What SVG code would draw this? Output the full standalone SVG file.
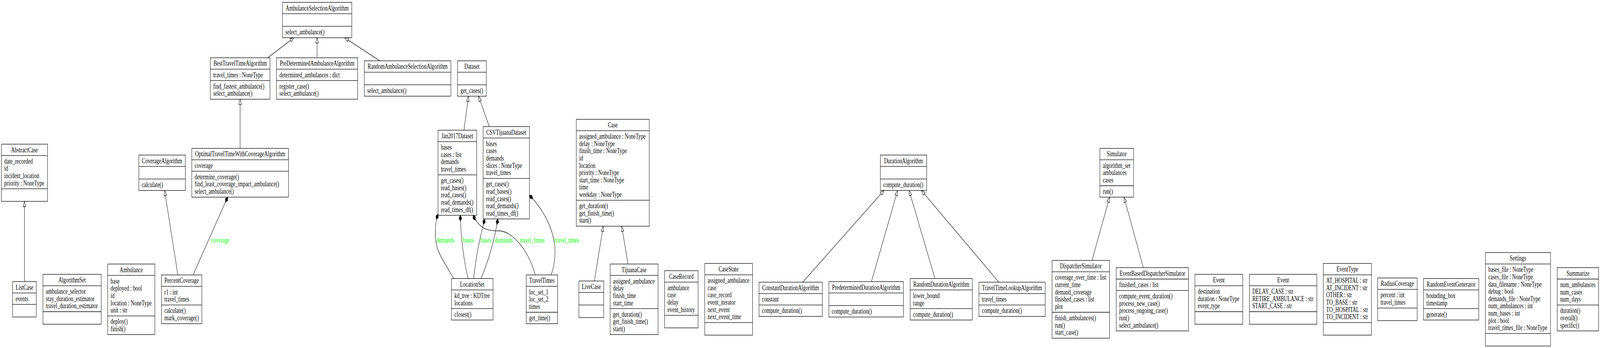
<svg xmlns="http://www.w3.org/2000/svg" width="5875" height="891" viewBox="0 0 5875 891" preserveAspectRatio="none" style="width:100vw;height:100vh;display:block">
<style>
.b{fill:none;stroke:#000;stroke-width:1.3}
.e{fill:none;stroke:#000;stroke-width:1.3}
text{font-family:"Liberation Serif","Times New Roman",serif;font-size:18.5px;fill:#000}
.t{text-anchor:middle}
.lbl{fill:#00ff00}
.inh{marker-end:url(#inh)}
.cmp{marker-start:url(#dia)}
</style>
<defs>
<marker id="inh" markerUnits="userSpaceOnUse" markerWidth="30" markerHeight="30" refX="0" refY="0" orient="auto" overflow="visible"><path d="M0,0 L-13.5,-4.8 L-13.5,4.8 Z" fill="#fff" stroke="#000" stroke-width="1.3"/></marker>
<marker id="dia" markerUnits="userSpaceOnUse" markerWidth="30" markerHeight="30" refX="0" refY="0" orient="auto" overflow="visible"><path d="M0,0 L7.5,-5 L15,0 L7.5,5 Z" fill="#000" stroke="#000" stroke-width="1.3"/></marker>
</defs>
<rect x="0" y="0" width="5875" height="891" fill="#fff"/>

<g id="connectors">
<path class="e inh" d="M89.8,721 L89.8,515.5"/>
<path class="e inh" d="M653,703.9 L604.4,487.6"/>
<path class="e inh" d="M983.4,147.9 L1079,96.6"/>
<path class="e inh" d="M1164.3,147.9 L1164.3,96.6"/>
<path class="e inh" d="M1394.4,155.7 L1265.3,96.6"/>
<path class="e inh" d="M881.7,379.9 L881.7,254.1"/>
<path class="e inh" d="M1703.6,333.4 L1720.2,246.3"/>
<path class="e inh" d="M1796.6,324.1 L1757,246.3"/>
<path class="e inh" d="M2182.5,719.5 L2215,579.1"/>
<path class="e inh" d="M2305.9,676 L2282.9,579.1"/>
<path class="e inh" d="M2947.5,722.5 L3246,487.6"/>
<path class="e inh" d="M3199.8,721 L3296,487.6"/>
<path class="e inh" d="M3433,713.2 L3338,487.6"/>
<path class="e inh" d="M3667.7,722.5 L3383,487.6"/>
<path class="e inh" d="M4009.6,666.7 L4074.5,504.7"/>
<path class="e inh" d="M4198.3,685.3 L4127.1,504.7"/>
<path class="e cmp" d="M835.9,504.7 L708.9,703.9"/>
<path class="e cmp" d="M1608.3,548 C1596,575 1592,620 1615,651 C1630,672 1648,692 1666.1,713.2"/>
<path class="e cmp" d="M1690,551.2 Q1694,640 1718.7,713.2"/>
<path class="e cmp" d="M1737,551.2 C1760,585 1790,592 1830,591 C1880,590 1940,640 1965.4,703.9"/>
<path class="e cmp" d="M1780,560.5 Q1750,640 1739.2,713.2"/>
<path class="e cmp" d="M1828,560.5 Q1810,640 1766.1,713.2"/>
<path class="e cmp" d="M1944,500 C1990,532 2030,580 2037,630 C2041,660 2033,685 2023.9,703.9"/>
<text class="lbl" x="775.4" y="621">coverage</text>
<text class="lbl" x="1602.8" y="621">demands</text>
<text class="lbl" x="1699.7" y="621">bases</text>
<text class="lbl" x="1908.5" y="621">travel_times</text>
<text class="lbl" x="1765" y="621">bases</text>
<text class="lbl" x="1817.1" y="621">demands</text>
<text class="lbl" x="2035.8" y="621">travel_times</text>
</g>

<g id="AmbulanceSelectionAlgorithm"><rect class="b" x="1037.2" y="6" width="254.6" height="90.6"/><path class="b" d="M1037.2,35.2H1291.8M1037.2,67.4H1291.8"/><text class="t" x="1164.5" y="26.6">AmbulanceSelectionAlgorithm</text><text x="1047.8" y="88">select_ambulance()</text></g>

<g id="BestTravelTimeAlgorithm"><rect class="b" x="772.2" y="147.9" width="219.1" height="106.2"/><path class="b" d="M772.2,177.1H991.3M772.2,206.3H991.3"/><text class="t" x="881.75" y="168.5">BestTravelTimeAlgorithm</text><text x="782.8" y="197.7">travel_times : NoneType</text><text x="782.8" y="226.9">find_fastest_ambulance()</text><text x="782.8" y="245.5">select_ambulance()</text></g>

<g id="PreDeterminedAmbulanceAlgorithm"><rect class="b" x="1015.3" y="147.9" width="298" height="106.2"/><path class="b" d="M1015.3,177.1H1313.3M1015.3,206.3H1313.3"/><text class="t" x="1164.3" y="168.5">PreDeterminedAmbulanceAlgorithm</text><text x="1025.9" y="197.7">determined_ambulances : dict</text><text x="1025.9" y="226.9">register_case()</text><text x="1025.9" y="245.5">select_ambulance()</text></g>

<g id="RandomAmbulanceSelectionAlgorithm"><rect class="b" x="1337.8" y="155.7" width="317.8" height="90.6"/><path class="b" d="M1337.8,184.9H1655.6M1337.8,217.1H1655.6"/><text class="t" x="1496.7" y="176.3">RandomAmbulanceSelectionAlgorithm</text><text x="1348.4" y="237.7">select_ambulance()</text></g>

<g id="Dataset"><rect class="b" x="1680.1" y="155.7" width="105.6" height="90.6"/><path class="b" d="M1680.1,184.9H1785.7M1680.1,217.1H1785.7"/><text class="t" x="1732.9" y="176.3">Dataset</text><text x="1690.7" y="237.7">get_cases()</text></g>

<g id="AbstractCase"><rect class="b" x="5" y="369.1" width="169.6" height="146.4"/><path class="b" d="M5,398.3H174.6M5,483.3H174.6"/><text class="t" x="89.8" y="389.7">AbstractCase</text><text x="15.6" y="418.9">date_recorded</text><text x="15.6" y="437.5">id</text><text x="15.6" y="456.1">incident_location</text><text x="15.6" y="474.7">priority : NoneType</text></g>

<g id="CoverageAlgorithm"><rect class="b" x="509.8" y="397" width="170.7" height="90.6"/><path class="b" d="M509.8,426.2H680.5M509.8,458.4H680.5"/><text class="t" x="595.15" y="417.6">CoverageAlgorithm</text><text x="520.4" y="479">calculate()</text></g>

<g id="OptimalTravelTimeWithCoverageAlgorithm"><rect class="b" x="704.2" y="379.9" width="355.1" height="124.8"/><path class="b" d="M704.2,409.1H1059.3M704.2,438.3H1059.3"/><text class="t" x="881.75" y="400.5">OptimalTravelTimeWithCoverageAlgorithm</text><text x="714.8" y="429.7">coverage</text><text x="714.8" y="458.9">determine_coverage()</text><text x="714.8" y="477.5">find_least_coverage_impact_ambulance()</text><text x="714.8" y="496.1">select_ambulance()</text></g>

<g id="Jan2017Dataset"><rect class="b" x="1608.3" y="333.4" width="142" height="217.8"/><path class="b" d="M1608.3,362.6H1750.3M1608.3,447.6H1750.3"/><text class="t" x="1679.3" y="354">Jan2017Dataset</text><text x="1618.9" y="383.2">bases</text><text x="1618.9" y="401.8">cases : list</text><text x="1618.9" y="420.4">demands</text><text x="1618.9" y="439">travel_times</text><text x="1618.9" y="468.2">get_cases()</text><text x="1618.9" y="486.8">read_bases()</text><text x="1618.9" y="505.4">read_cases()</text><text x="1618.9" y="524">read_demands()</text><text x="1618.9" y="542.6">read_times_df()</text></g>

<g id="CSVTijuanaDataset"><rect class="b" x="1774" y="324.1" width="170" height="236.4"/><path class="b" d="M1774,353.3H1944M1774,456.9H1944"/><text class="t" x="1859" y="344.7">CSVTijuanaDataset</text><text x="1784.6" y="373.9">bases</text><text x="1784.6" y="392.5">cases</text><text x="1784.6" y="411.1">demands</text><text x="1784.6" y="429.7">slices : NoneType</text><text x="1784.6" y="448.3">travel_times</text><text x="1784.6" y="477.5">get_cases()</text><text x="1784.6" y="496.1">read_bases()</text><text x="1784.6" y="514.7">read_cases()</text><text x="1784.6" y="533.3">read_demands()</text><text x="1784.6" y="551.9">read_times_df()</text></g>

<g id="Case"><rect class="b" x="2116" y="305.5" width="268" height="273.6"/><path class="b" d="M2116,334.7H2384M2116,512.7H2384"/><text class="t" x="2250" y="326.1">Case</text><text x="2126.6" y="355.3">assigned_ambulance : NoneType</text><text x="2126.6" y="373.9">delay : NoneType</text><text x="2126.6" y="392.5">finish_time : NoneType</text><text x="2126.6" y="411.1">id</text><text x="2126.6" y="429.7">location</text><text x="2126.6" y="448.3">priority : NoneType</text><text x="2126.6" y="466.9">start_time : NoneType</text><text x="2126.6" y="485.5">time</text><text x="2126.6" y="504.1">weekday : NoneType</text><text x="2126.6" y="533.3">get_duration()</text><text x="2126.6" y="551.9">get_finish_time()</text><text x="2126.6" y="570.5">start()</text></g>

<g id="DurationAlgorithm"><rect class="b" x="3232.7" y="397" width="170" height="90.6"/><path class="b" d="M3232.7,426.2H3402.7M3232.7,458.4H3402.7"/><text class="t" x="3317.7" y="417.6">DurationAlgorithm</text><text x="3243.3" y="479">compute_duration()</text></g>

<g id="Simulator"><rect class="b" x="4038.7" y="379.9" width="123.5" height="124.8"/><path class="b" d="M4038.7,409.1H4162.2M4038.7,475.5H4162.2"/><text class="t" x="4100.45" y="400.5">Simulator</text><text x="4049.3" y="429.7">algorithm_set</text><text x="4049.3" y="448.3">ambulances</text><text x="4049.3" y="466.9">cases</text><text x="4049.3" y="496.1">run()</text></g>

<g id="ListCase"><rect class="b" x="46.3" y="721" width="87" height="90.6"/><path class="b" d="M46.3,750.2H133.3M46.3,779.4H133.3"/><text class="t" x="89.8" y="741.6">ListCase</text><text x="56.9" y="770.8">events</text></g>

<g id="AlgorithmSet"><rect class="b" x="157.7" y="702.4" width="213.9" height="127.8"/><path class="b" d="M157.7,731.6H371.6M157.7,798H371.6"/><text class="t" x="264.65" y="723">AlgorithmSet</text><text x="168.3" y="752.2">ambulance_selector</text><text x="168.3" y="770.8">stay_duration_estimator</text><text x="168.3" y="789.4">travel_duration_estimator</text></g>

<g id="Ambulance"><rect class="b" x="395.5" y="676" width="173.1" height="180.6"/><path class="b" d="M395.5,705.2H568.6M395.5,808.8H568.6"/><text class="t" x="482.05" y="696.6">Ambulance</text><text x="406.1" y="725.8">base</text><text x="406.1" y="744.4">deployed : bool</text><text x="406.1" y="763">id</text><text x="406.1" y="781.6">location : NoneType</text><text x="406.1" y="800.2">unit : str</text><text x="406.1" y="829.4">deploy()</text><text x="406.1" y="848">finish()</text></g>

<g id="PercentCoverage"><rect class="b" x="593" y="703.9" width="148.2" height="124.8"/><path class="b" d="M593,733.1H741.2M593,780.9H741.2"/><text class="t" x="667.1" y="724.5">PercentCoverage</text><text x="603.6" y="753.7">r1 : int</text><text x="603.6" y="772.3">travel_times</text><text x="603.6" y="801.5">calculate()</text><text x="603.6" y="820.1">mark_coverage()</text></g>

<g id="LocationSet"><rect class="b" x="1657.8" y="713.2" width="152.6" height="106.2"/><path class="b" d="M1657.8,742.4H1810.4M1657.8,790.2H1810.4"/><text class="t" x="1734.1" y="733.8">LocationSet</text><text x="1668.4" y="763">kd_tree : KDTree</text><text x="1668.4" y="781.6">locations</text><text x="1668.4" y="810.8">closest()</text></g>

<g id="TravelTimes"><rect class="b" x="1932.2" y="703.9" width="115.4" height="124.8"/><path class="b" d="M1932.2,733.1H2047.6M1932.2,799.5H2047.6"/><text class="t" x="1989.9" y="724.5">TravelTimes</text><text x="1942.8" y="753.7">loc_set_1</text><text x="1942.8" y="772.3">loc_set_2</text><text x="1942.8" y="790.9">times</text><text x="1942.8" y="820.1">get_time()</text></g>

<g id="LiveCase"><rect class="b" x="2125.6" y="719.5" width="91.3" height="93.6"/><path class="b" d="M2125.6,748.7H2216.9M2125.6,780.9H2216.9"/><text class="t" x="2171.25" y="740.1">LiveCase</text></g>

<g id="TijuanaCase"><rect class="b" x="2240.4" y="676" width="176" height="180.6"/><path class="b" d="M2240.4,705.2H2416.4M2240.4,790.2H2416.4"/><text class="t" x="2328.4" y="696.6">TijuanaCase</text><text x="2251" y="725.8">assigned_ambulance</text><text x="2251" y="744.4">delay</text><text x="2251" y="763">finish_time</text><text x="2251" y="781.6">start_time</text><text x="2251" y="810.8">get_duration()</text><text x="2251" y="829.4">get_finish_time()</text><text x="2251" y="848">start()</text></g>

<g id="CaseRecord"><rect class="b" x="2440.3" y="693.1" width="122.9" height="146.4"/><path class="b" d="M2440.3,722.3H2563.2M2440.3,807.3H2563.2"/><text class="t" x="2501.75" y="713.7">CaseRecord</text><text x="2450.9" y="742.9">ambulance</text><text x="2450.9" y="761.5">case</text><text x="2450.9" y="780.1">delay</text><text x="2450.9" y="798.7">event_history</text></g>

<g id="CaseState"><rect class="b" x="2587.6" y="674.5" width="175.6" height="183.6"/><path class="b" d="M2587.6,703.7H2763.2M2587.6,825.9H2763.2"/><text class="t" x="2675.4" y="695.1">CaseState</text><text x="2598.2" y="724.3">assigned_ambulance</text><text x="2598.2" y="742.9">case</text><text x="2598.2" y="761.5">case_record</text><text x="2598.2" y="780.1">event_iterator</text><text x="2598.2" y="798.7">next_event</text><text x="2598.2" y="817.3">next_event_time</text></g>

<g id="ConstantDurationAlgorithm"><rect class="b" x="2787" y="722.5" width="232.4" height="87.6"/><path class="b" d="M2787,751.7H3019.4M2787,780.9H3019.4"/><text class="t" x="2903.2" y="743.1">ConstantDurationAlgorithm</text><text x="2797.6" y="772.3">constant</text><text x="2797.6" y="801.5">compute_duration()</text></g>

<g id="PredeterminedDurationAlgorithm"><rect class="b" x="3043.6" y="721" width="273.6" height="90.6"/><path class="b" d="M3043.6,750.2H3317.2M3043.6,782.4H3317.2"/><text class="t" x="3180.4" y="741.6">PredeterminedDurationAlgorithm</text><text x="3054.2" y="803">compute_duration()</text></g>

<g id="RandomDurationAlgorithm"><rect class="b" x="3342.1" y="713.2" width="228.1" height="106.2"/><path class="b" d="M3342.1,742.4H3570.2M3342.1,790.2H3570.2"/><text class="t" x="3456.15" y="733.8">RandomDurationAlgorithm</text><text x="3352.7" y="763">lower_bound</text><text x="3352.7" y="781.6">range</text><text x="3352.7" y="810.8">compute_duration()</text></g>

<g id="TravelTimeLookupAlgorithm"><rect class="b" x="3594.4" y="722.5" width="243.5" height="87.6"/><path class="b" d="M3594.4,751.7H3837.9M3594.4,780.9H3837.9"/><text class="t" x="3716.15" y="743.1">TravelTimeLookupAlgorithm</text><text x="3605" y="772.3">travel_times</text><text x="3605" y="801.5">compute_duration()</text></g>

<g id="DispatcherSimulator"><rect class="b" x="3863" y="666.7" width="211.1" height="199.2"/><path class="b" d="M3863,695.9H4074.1M3863,799.5H4074.1"/><text class="t" x="3968.55" y="687.3">DispatcherSimulator</text><text x="3873.6" y="716.5">coverage_over_time : list</text><text x="3873.6" y="735.1">current_time</text><text x="3873.6" y="753.7">demand_coverage</text><text x="3873.6" y="772.3">finished_cases : list</text><text x="3873.6" y="790.9">plot</text><text x="3873.6" y="820.1">finish_ambulances()</text><text x="3873.6" y="838.7">run()</text><text x="3873.6" y="857.3">start_case()</text></g>

<g id="EventBasedDispatcherSimulator"><rect class="b" x="4098.7" y="685.3" width="265.2" height="162"/><path class="b" d="M4098.7,714.5H4363.9M4098.7,743.7H4363.9"/><text class="t" x="4231.3" y="705.9">EventBasedDispatcherSimulator</text><text x="4109.3" y="735.1">finished_cases : list</text><text x="4109.3" y="764.3">compute_event_duration()</text><text x="4109.3" y="782.9">process_new_case()</text><text x="4109.3" y="801.5">process_ongoing_case()</text><text x="4109.3" y="820.1">run()</text><text x="4109.3" y="838.7">select_ambulance()</text></g>

<g id="Event1"><rect class="b" x="4387.5" y="702.4" width="175.7" height="127.8"/><path class="b" d="M4387.5,731.6H4563.2M4387.5,798H4563.2"/><text class="t" x="4475.35" y="723">Event</text><text x="4398.1" y="752.2">destination</text><text x="4398.1" y="770.8">duration : NoneType</text><text x="4398.1" y="789.4">event_type</text></g>

<g id="Event2"><rect class="b" x="4587.7" y="702.4" width="247.6" height="127.8"/><path class="b" d="M4587.7,731.6H4835.3M4587.7,798H4835.3"/><text class="t" x="4711.5" y="723">Event</text><text x="4598.3" y="752.2">DELAY_CASE : str</text><text x="4598.3" y="770.8">RETIRE_AMBULANCE : str</text><text x="4598.3" y="789.4">START_CASE : str</text></g>

<g id="EventType"><rect class="b" x="4859" y="674.5" width="176.7" height="183.6"/><path class="b" d="M4859,703.7H5035.7M4859,825.9H5035.7"/><text class="t" x="4947.35" y="695.1">EventType</text><text x="4869.6" y="724.3">AT_HOSPITAL : str</text><text x="4869.6" y="742.9">AT_INCIDENT : str</text><text x="4869.6" y="761.5">OTHER : str</text><text x="4869.6" y="780.1">TO_BASE : str</text><text x="4869.6" y="798.7">TO_HOSPITAL : str</text><text x="4869.6" y="817.3">TO_INCIDENT : str</text></g>

<g id="RadiusCoverage"><rect class="b" x="5058.5" y="711.7" width="145.2" height="109.2"/><path class="b" d="M5058.5,740.9H5203.7M5058.5,788.7H5203.7"/><text class="t" x="5131.1" y="732.3">RadiusCoverage</text><text x="5069.1" y="761.5">percent : int</text><text x="5069.1" y="780.1">travel_times</text></g>

<g id="RandomEventGenerator"><rect class="b" x="5226.9" y="713.2" width="203.1" height="106.2"/><path class="b" d="M5226.9,742.4H5430M5226.9,790.2H5430"/><text class="t" x="5328.45" y="733.8">RandomEventGenerator</text><text x="5237.5" y="763">bounding_box</text><text x="5237.5" y="781.6">timestamp</text><text x="5237.5" y="810.8">generate()</text></g>

<g id="Settings"><rect class="b" x="5454.3" y="646.6" width="239" height="239.4"/><path class="b" d="M5454.3,675.8H5693.3M5454.3,853.8H5693.3"/><text class="t" x="5573.8" y="667.2">Settings</text><text x="5464.9" y="696.4">bases_file : NoneType</text><text x="5464.9" y="715">cases_file : NoneType</text><text x="5464.9" y="733.6">data_filename : NoneType</text><text x="5464.9" y="752.2">debug : bool</text><text x="5464.9" y="770.8">demands_file : NoneType</text><text x="5464.9" y="789.4">num_ambulances : int</text><text x="5464.9" y="808">num_bases : int</text><text x="5464.9" y="826.6">plot : bool</text><text x="5464.9" y="845.2">travel_times_file : NoneType</text></g>

<g id="Summarize"><rect class="b" x="5718" y="685.3" width="152" height="162"/><path class="b" d="M5718,714.5H5870M5718,780.9H5870"/><text class="t" x="5794" y="705.9">Summarize</text><text x="5728.6" y="735.1">num_ambulances</text><text x="5728.6" y="753.7">num_cases</text><text x="5728.6" y="772.3">num_days</text><text x="5728.6" y="801.5">duration()</text><text x="5728.6" y="820.1">overall()</text><text x="5728.6" y="838.7">specific()</text></g>
</svg>
